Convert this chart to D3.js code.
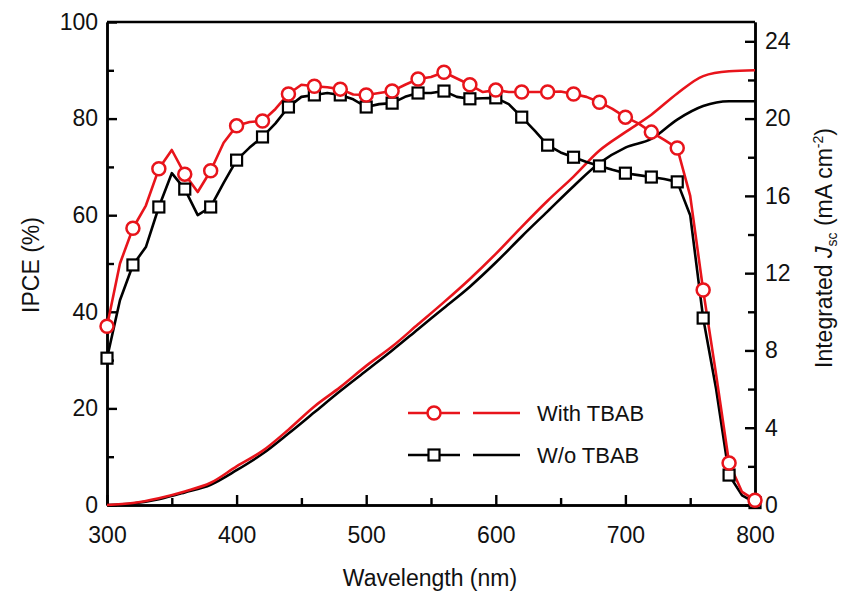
<!DOCTYPE html>
<html>
<head>
<meta charset="utf-8">
<script src="https://cdn.jsdelivr.net/npm/d3@7"></script>
<style>
  body { margin: 0; background: #fff; }
  text { font-family: "Liberation Sans", Arial, sans-serif; }
</style>
</head>
<body>
<div id="chart"></div>
<script>
// wavelengths of the IPCE curves (nm)
let wavelengths = [300,310,320,330,340,350,360,370,380,390,400,410,420,430,440,450,460,470,480,490,
                   500,510,520,530,540,550,560,570,580,590,600,610,620,630,640,650,660,670,680,690,
                   700,710,720,730,740,750,760,770,780,790,800];

let ipce_with = [37.0,50,57.3,62,69.6,73.5,68.5,64.8,69.2,75,78.5,79.3,79.5,82,85.1,87,86.7,86.5,86.1,85,
                 84.9,85.3,85.7,87,88.2,88.6,89.6,88.3,87.0,85.5,85.9,85.5,85.5,85.5,85.5,85.6,85.1,84.5,83.4,82,
                 80.3,79,77.2,75.6,73.9,64,44.5,27,8.7,2.7,1.0];

let ipce_without = [30.4,42.4,49.7,53.4,61.7,68.7,65.4,60.0,61.7,66.7,71.4,74,76.2,79,82.4,84.5,84.9,85.3,84.9,84,
                    82.4,83,83.2,84.5,85.3,85.3,85.7,84.5,84.1,84.2,84.3,83,80.3,77.5,74.5,73,72.0,71,70.2,69.4,
                    68.7,68.3,67.9,67.5,66.9,60,38.7,24,6.2,2,0.5];

// integrated Jsc (mA cm-2)
let jsc_wavelengths = [300,320,340,360,380,400,420,440,460,480,500,520,540,560,580,600,620,640,660,680,700,720,740,760,780,800];
let jsc_with    = [0,0.1,0.35,0.7,1.15,2.0,2.8,3.9,5.1,6.1,7.2,8.2,9.35,10.5,11.7,13.0,14.4,15.75,17.0,18.35,19.3,20.2,21.3,22.2,22.45,22.5];
let jsc_without = [0,0.08,0.3,0.65,1.05,1.8,2.65,3.7,4.8,5.9,6.95,8.0,9.1,10.2,11.3,12.55,13.9,15.2,16.5,17.7,18.5,18.95,19.95,20.65,20.9,20.9];

let x_ticks       = [300,400,500,600,700,800];
let x_minor       = [350,450,550,650,750];
let ipce_ticks    = [0,20,40,60,80,100];
let ipce_minor    = [10,30,50,70,90];
let jsc_ticks     = [0,4,8,12,16,20,24];
let jsc_minor     = [2,6,10,14,18,22];

let legend_labels = ['With TBAB', 'W/o TBAB'];

let chart_width  = 842;
let chart_height = 592;
let plot_left = 107, plot_right = 755, plot_top = 22, plot_bottom = 505;
let red = '#e8141b';
let font_size = 23;

let svg = d3.select('#chart')
            .append('svg')
            .attr('width', chart_width)
            .attr('height', chart_height);

//scales
let x_scale = d3.scaleLinear().domain([300, 800]).range([plot_left, plot_right]);
let y_scale = d3.scaleLinear().domain([0, 100]).range([plot_bottom, plot_top]);
let j_scale = d3.scaleLinear().domain([0, 25]).range([plot_bottom, plot_top]);

//axes
function styleAxis(g) {
  g.select('.domain').attr('stroke-width', 2.5).attr('stroke', '#000');
  g.selectAll('.tick line').attr('stroke-width', 2.4).attr('stroke', '#000');
  g.selectAll('.tick text').attr('font-size', font_size).attr('fill', '#111')
    .attr('font-family', '"Liberation Sans", Arial, sans-serif');
}

svg.append('g')
  .attr('transform', 'translate(0,' + plot_bottom + ')')
  .call(d3.axisBottom(x_scale).tickValues(x_ticks).tickSize(-10).tickPadding(22).tickSizeOuter(0))
  .call(styleAxis);
svg.append('g')
  .attr('transform', 'translate(0,' + plot_bottom + ')')
  .call(d3.axisBottom(x_scale).tickValues(x_minor).tickSize(-7).tickFormat('').tickSizeOuter(0))
  .call(styleAxis);

svg.append('g')
  .attr('transform', 'translate(' + plot_left + ',0)')
  .call(d3.axisLeft(y_scale).tickValues(ipce_ticks).tickSize(-10).tickPadding(9).tickSizeOuter(0))
  .call(styleAxis);
svg.append('g')
  .attr('transform', 'translate(' + plot_left + ',0)')
  .call(d3.axisLeft(y_scale).tickValues(ipce_minor).tickSize(-7).tickFormat('').tickSizeOuter(0))
  .call(styleAxis);

svg.append('g')
  .attr('transform', 'translate(' + plot_right + ',0)')
  .call(d3.axisRight(j_scale).tickValues(jsc_ticks).tickSize(-10).tickPadding(10).tickSizeOuter(0))
  .call(styleAxis);
svg.append('g')
  .attr('transform', 'translate(' + plot_right + ',0)')
  .call(d3.axisRight(j_scale).tickValues(jsc_minor).tickSize(-7).tickFormat('').tickSizeOuter(0))
  .call(styleAxis);

//top frame line
svg.append('line')
  .attr('x1', plot_left).attr('x2', plot_right)
  .attr('y1', plot_top).attr('y2', plot_top)
  .attr('stroke', '#000').attr('stroke-width', 2.5);

//axis titles
svg.append('text')
  .attr('x', 430).attr('y', 586)
  .attr('text-anchor', 'middle').attr('font-size', font_size).attr('fill', '#111')
  .text('Wavelength (nm)');

svg.append('text')
  .attr('transform', 'translate(39,265) rotate(-90)')
  .attr('text-anchor', 'middle').attr('font-size', font_size).attr('fill', '#111')
  .text('IPCE (%)');

let jlabel = svg.append('text')
  .attr('transform', 'translate(832,248) rotate(-90)')
  .attr('text-anchor', 'middle').attr('font-size', font_size).attr('fill', '#111');
jlabel.append('tspan').text('Integrated ');
jlabel.append('tspan').attr('font-style', 'italic').text('J');
jlabel.append('tspan').attr('font-size', 14).attr('dy', 5).text('sc');
jlabel.append('tspan').attr('dy', -5).text(' (mA cm');
jlabel.append('tspan').attr('font-size', 14).attr('dy', -9).text('-2');
jlabel.append('tspan').attr('dy', 9).text(')');

//lines
let ipce_line = d3.line()
  .x((d, i) => x_scale(wavelengths[i]))
  .y(d => y_scale(d));

let jsc_line = d3.line()
  .x((d, i) => x_scale(jsc_wavelengths[i]))
  .y(d => j_scale(d))
  .curve(d3.curveMonotoneX);

svg.append('path').datum(jsc_without).attr('d', jsc_line)
  .attr('fill', 'none').attr('stroke', '#000').attr('stroke-width', 2.6);
svg.append('path').datum(jsc_with).attr('d', jsc_line)
  .attr('fill', 'none').attr('stroke', red).attr('stroke-width', 2.6);

svg.append('path').datum(ipce_without).attr('d', ipce_line)
  .attr('fill', 'none').attr('stroke', '#000').attr('stroke-width', 2.6).attr('stroke-linejoin', 'round');
svg.append('path').datum(ipce_with).attr('d', ipce_line)
  .attr('fill', 'none').attr('stroke', red).attr('stroke-width', 2.6).attr('stroke-linejoin', 'round');

//markers every 20 nm
let marked = wavelengths.map((w, i) => i).filter(i => (wavelengths[i] - 300) % 20 === 0);

svg.append('g')
  .selectAll('rect')
  .data(marked)
  .enter()
  .append('rect')
  .attr('x', i => x_scale(wavelengths[i]) - 5.5)
  .attr('y', i => y_scale(ipce_without[i]) - 5.5)
  .attr('width', 11).attr('height', 11)
  .attr('fill', '#fff').attr('stroke', '#000').attr('stroke-width', 2.2);

svg.append('g')
  .selectAll('circle')
  .data(marked)
  .enter()
  .append('circle')
  .attr('cx', i => x_scale(wavelengths[i]))
  .attr('cy', i => y_scale(ipce_with[i]))
  .attr('r', 6.5)
  .attr('fill', '#fff').attr('stroke', red).attr('stroke-width', 2.5);

//legend
let legend = svg.append('g');
[413, 455].forEach((ly, k) => {
  let c = k === 0 ? red : '#000';
  legend.append('line').attr('x1', 408).attr('x2', 460).attr('y1', ly).attr('y2', ly)
    .attr('stroke', c).attr('stroke-width', 2.6);
  legend.append('line').attr('x1', 473).attr('x2', 520).attr('y1', ly).attr('y2', ly)
    .attr('stroke', c).attr('stroke-width', 2.6);
  if (k === 0) {
    legend.append('circle').attr('cx', 434).attr('cy', ly).attr('r', 6.5)
      .attr('fill', '#fff').attr('stroke', c).attr('stroke-width', 2.5);
  } else {
    legend.append('rect').attr('x', 428.5).attr('y', ly - 5.5).attr('width', 11).attr('height', 11)
      .attr('fill', '#fff').attr('stroke', c).attr('stroke-width', 2.2);
  }
  legend.append('text').attr('x', 537).attr('y', ly + 8)
    .attr('font-size', 22).attr('fill', '#111').text(legend_labels[k]);
});
</script>
</body>
</html>
